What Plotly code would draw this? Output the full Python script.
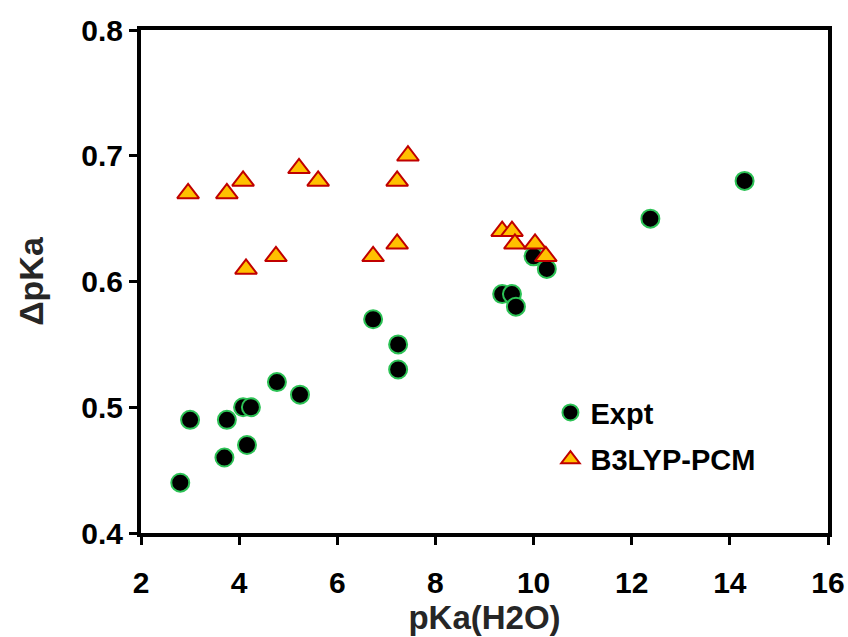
import plotly.graph_objects as go

# Expt series
expt_x = [2.8, 3.0, 3.7, 3.75, 4.08, 4.24, 4.16, 4.77, 5.24, 6.73, 7.24, 7.24,
          9.36, 9.56, 9.64, 10.0, 10.27, 12.38, 14.3]
expt_y = [0.44, 0.49, 0.46, 0.49, 0.50, 0.50, 0.47, 0.52, 0.51, 0.57, 0.55, 0.53,
          0.59, 0.59, 0.58, 0.62, 0.61, 0.65, 0.68]

# B3LYP-PCM series
calc_x = [2.96, 3.75, 4.08, 4.14, 4.75, 5.22, 5.61, 6.73, 7.22, 7.22, 7.44,
          9.36, 9.56, 9.62, 10.03, 10.25]
calc_y = [0.67, 0.67, 0.68, 0.61, 0.62, 0.69, 0.68, 0.62, 0.68, 0.63, 0.70,
          0.64, 0.64, 0.63, 0.63, 0.62]

x_ticks = [2, 4, 6, 8, 10, 12, 14, 16]
y_ticks = [0.4, 0.5, 0.6, 0.7, 0.8]

FONT = "Liberation Sans, Arial, sans-serif"

fig = go.Figure()
fig.add_trace(go.Scatter(
    x=expt_x, y=expt_y, mode="markers", name="Expt", legendgroup="a",
    marker=dict(symbol="circle", size=18, color="black",
                line=dict(color="#2CC255", width=2)),
))
fig.add_trace(go.Scatter(
    x=calc_x, y=calc_y, mode="markers", name="B3LYP-PCM", legendgroup="b",
    marker=dict(symbol="triangle-up", size=19, color="#FFC000",
                line=dict(color="#C00000", width=2)),
))

axis_common = dict(
    showline=True, linecolor="black", linewidth=4, mirror=True,
    ticks="outside", ticklen=8, tickwidth=3, tickcolor="black",
    showgrid=False, zeroline=False, automargin=False,
    tickfont=dict(family=FONT, size=30, color="black", weight="bold"),
)

fig.update_xaxes(range=[2, 16], tickvals=x_ticks, ticktext=[str(v) for v in x_ticks],
                 ticklabelstandoff=12,
                 title=dict(text="<b>pKa(H2O)</b>", font=dict(family=FONT, size=33, color="#262626"),
                            standoff=8),
                 **axis_common)
fig.update_yaxes(range=[0.4, 0.8], tickvals=y_ticks, ticktext=[f"{v:.1f}" for v in y_ticks],
                 title=dict(text="<b>ΔpKa</b>", font=dict(family=FONT, size=34, color="#262626"),
                            standoff=28),
                 **axis_common)

fig.update_layout(
    width=848, height=637,
    margin=dict(l=141, r=20, t=30, b=104),
    plot_bgcolor="white", paper_bgcolor="white",
    legend=dict(x=0.596, y=0.29, xanchor="left", yanchor="top",
                font=dict(family=FONT, size=29, color="black", weight="bold"),
                bgcolor="rgba(0,0,0,0)", tracegroupgap=6),
)

fig.write_html("out.html")
